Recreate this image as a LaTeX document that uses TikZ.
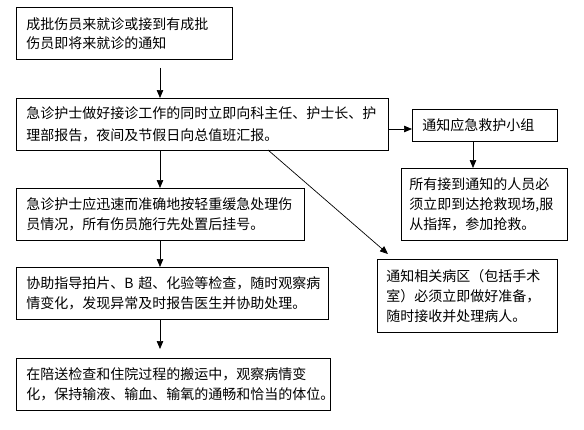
\documentclass[tikz,border=0pt]{standalone}
\usepackage{fontspec}
\newfontfamily\cjk{Noto Sans CJK SC}
\usetikzlibrary{arrows.meta}
\tikzset{
  box/.style={draw, line width=0.8pt, anchor=north west, align=left, inner ysep=0pt,
    font=\cjk\fontsize{14}{20}\selectfont},
  arr/.style={line width=0.7pt, -{Triangle[length=8pt,width=6.5pt]}}
}
\begin{document}
\begin{tikzpicture}[x=1pt,y=-1pt]
\useasboundingbox[fill=white] (0,0) rectangle (584,429);
\node[box, inner xsep=10pt, text width=196pt, minimum height=52pt, font=\cjk\fontsize{14}{19}\selectfont] (b1) at (16,7)
  {成批伤员来就诊或接到有成批\\伤员即将来就诊的通知};
\node[box, inner xsep=10pt, text width=352pt, minimum height=52pt, font=\cjk\fontsize{14}{22}\selectfont] (b2) at (16,98)
  {急诊护士做好接诊工作的同时立即向科主任、护士长、护\\理部报告，夜间及节假日向总值班汇报。};
\node[box, inner xsep=10pt, text width=125pt, minimum height=32pt] (b3) at (412,109)
  {通知应急救护小组};
\node[box, inner xsep=8pt, text width=150pt, minimum height=72pt] (b4) at (401,168)
  {所有接到通知的人员必\\须立即到达抢救现场,服\\从指挥，参加抢救。};
\node[box, inner xsep=9pt, text width=162pt, minimum height=73pt] (b5) at (377,259)
  {通知相关病区（包括手术\\室）必须立即做好准备，\\随时接收并处理病人。};
\node[box, inner xsep=10pt, text width=268pt, minimum height=52pt] (b6) at (16,188)
  {急诊护士应迅速而准确地按轻重缓急处理伤\\员情况，所有伤员施行先处置后挂号。};
\node[box, inner xsep=10pt, text width=292pt, minimum height=52pt] (b7) at (16,267)
  {\mbox{协助指导拍片、B~超、化验等检查，随时观察病}\\情变化，发现异常及时报告医生并协助处理。};
\node[box, inner xsep=10pt, text width=294pt, minimum height=52pt] (b8) at (16,358)
  {在陪送检查和住院过程的搬运中，观察病情变\\化，保持输液、输血、输氧的通畅和恰当的体位。};
\coordinate (ax) at (160,0);
\coordinate (ay) at (0,129);
\coordinate (bx) at (473,0);
\coordinate (dstart) at (268,150);
\coordinate (dend) at (388,254);
\draw[arr, shorten <=8pt] (b1.south -| ax) -- (b2.north -| ax);
\draw[arr] (b2.south -| ax) -- (b6.north -| ax);
\draw[arr] (b6.south -| ax) -- (b7.north -| ax);
\draw[arr, shorten >=9pt] (b7.south -| ax) -- (b8.north -| ax);
\draw[arr] (b2.east |- ay) -- (b3.west |- ay);
\draw[arr] (b3.south -| bx) -- (b4.north -| bx);
\draw[arr] (dstart) -- (dend);
\end{tikzpicture}
\end{document}
